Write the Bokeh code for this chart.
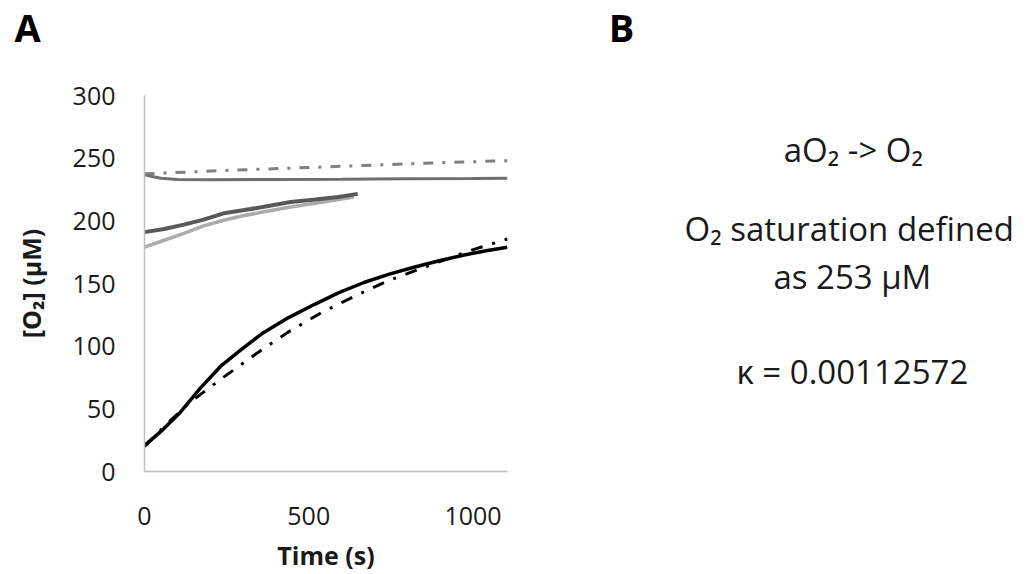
from bokeh.plotting import figure
from bokeh.models import Range1d
from bokeh.layouts import row, column
from bokeh.embed import file_html
from bokeh.resources import INLINE
from bokeh.core.properties import value

# ---------------- data ----------------
# anoxic start, measured (black solid)
t_meas_low = [0, 50, 110, 170, 232, 300, 363, 440, 515, 590, 668, 745, 820, 900, 973, 1040, 1105]
o2_meas_low = [20.6, 32, 47.5, 66.5, 84, 98.5, 111, 123, 133, 142.5, 150.8, 157.5, 163, 168.3, 172.7, 176.2, 179]
# anoxic start, model (black dash-dot)
t_fit_low = [0, 70, 140, 241, 340, 436, 540, 649, 740, 832, 920, 1010, 1105]
o2_fit_low = [20, 38.5, 55.5, 75.3, 94, 111, 127, 141, 152, 161, 169.5, 177.8, 185.5]
# near-saturation start, model (grey dash-dot)
t_fit_high = [0, 275, 550, 830, 1105]
o2_fit_high = [237.5, 240.5, 243, 245.8, 248]
# near-saturation start, measured (grey solid)
t_meas_high = [0, 20, 50, 100, 200, 400, 600, 800, 1000, 1105]
o2_meas_high = [237, 235.5, 234, 233, 232.8, 233, 233.2, 233.5, 233.8, 234]
# intermediate runs (dark grey and light grey)
t_mid_dark = [0, 60, 120, 180, 241, 300, 360, 445, 520, 590, 649]
o2_mid_dark = [191, 193.5, 197, 201, 206, 208.5, 211, 215, 217, 219, 221.5]
t_mid_light = [0, 60, 120, 180, 241, 300, 360, 445, 520, 590, 637]
o2_mid_light = [179, 184.5, 190, 196, 200.5, 204, 207, 211, 214, 217, 219]

x_ticks = [0, 500, 1000]
y_ticks = [0, 50, 100, 150, 200, 250, 300]

panel_letters = ["A", "B"]
b_texts = ["aO\u2082 -> O\u2082", "O\u2082 saturation defined", "as 253 \u00b5M", "\u03ba = 0.00112572"]

FONT = "Open Sans"

# ---------------- header with panel letters ----------------
h = figure(width=1025, height=60, output_backend="svg", toolbar_location=None,
           x_range=Range1d(0, 1025), y_range=Range1d(60, 0),
           min_border_left=0, min_border_right=0, min_border_top=0, min_border_bottom=0)
h.outline_line_color = None
h.grid.visible = False
h.axis.visible = False
h.text(x=[27, 621], y=[26, 26], text=panel_letters, text_font=value(FONT), text_font_size="38px",
       text_font_style="bold", text_align="center", text_baseline="middle", text_color="#000000")

# ---------------- panel A ----------------
p = figure(width=520, height=514, output_backend="svg", toolbar_location=None,
           x_range=Range1d(0, 1105), y_range=Range1d(0, 300),
           min_border_left=144, min_border_right=13, min_border_top=35, min_border_bottom=101)
p.outline_line_color = None
p.grid.visible = False

p.line(t_mid_light, o2_mid_light, line_color="#ababab", line_width=3.5)
p.line(t_mid_dark, o2_mid_dark, line_color="#595959", line_width=4)
p.line(t_meas_high, o2_meas_high, line_color="#6e6e6e", line_width=3)
p.line(t_fit_high, o2_fit_high, line_color="#808080", line_width=3, line_dash="10 9 3 9")
p.line(t_meas_low, o2_meas_low, line_color="#000000", line_width=3.5)
p.line(t_fit_low, o2_fit_low, line_color="#000000", line_width=3, line_dash="12 10 3 10")

for ax in (p.xaxis[0], p.yaxis[0]):
    ax.axis_line_color = "#bfbfbf"
    ax.axis_line_width = 1.5
    ax.major_tick_line_color = None
    ax.minor_tick_line_color = None
    ax.major_label_text_font = FONT
    ax.major_label_text_font_size = "25px"
    ax.major_label_text_color = "#1a1a1a"
    ax.axis_label_text_font = FONT
    ax.axis_label_text_font_size = "25px"
    ax.axis_label_text_font_style = "bold"
    ax.axis_label_text_color = "#1a1a1a"

p.xaxis.ticker = x_ticks
p.yaxis.ticker = y_ticks
p.xaxis.major_label_standoff = 29
p.yaxis.major_label_standoff = 23
p.xaxis.axis_label = "Time (s)"
p.yaxis.axis_label = "[O\u2082] (\u00b5M)"
p.xaxis.axis_label_standoff = 10
p.yaxis.axis_label_standoff = 22

# ---------------- panel B ----------------
q = figure(width=505, height=514, output_backend="svg", toolbar_location=None,
           x_range=Range1d(523, 1013), y_range=Range1d(473, 95),
           min_border_left=0, min_border_right=0, min_border_top=35, min_border_bottom=101)
q.outline_line_color = None
q.grid.visible = False
q.axis.visible = False

b_x = [846, 842, 845, 845]
b_y = [149, 229, 277, 372]
q.text(x=b_x, y=b_y, text=b_texts, text_font=value(FONT), text_font_size="33px",
       text_align="center", text_baseline="middle", text_color="#1a1a1a")

layout = column(h, row(p, q))
open("out.html", "w").write(file_html(layout, INLINE))
